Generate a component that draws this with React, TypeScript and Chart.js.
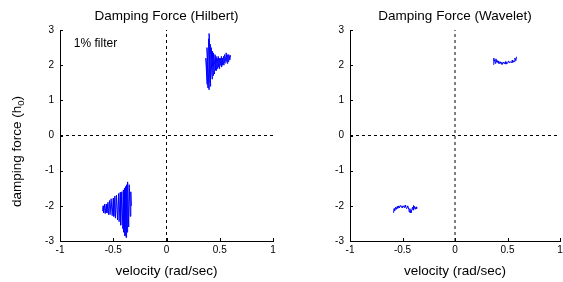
import React, { useEffect, useRef } from "react";
import { Chart, registerables } from "chart.js";

Chart.register(...registerables);

// ---- data ----
const X_TICKS = [-1, -0.5, 0, 0.5, 1];
const X_TICK_LABELS = ["-1", "-0.5", "0", "0.5", "1"];
const Y_TICKS = [-3, -2, -1, 0, 1, 2, 3];
const Y_TICK_LABELS = ["-3", "-2", "-1", "0", "1", "2", "3"];
const TITLES = ["Damping Force (Hilbert)", "Damping Force (Wavelet)"];
const X_LABEL = "velocity (rad/sec)";
const Y_LABEL_MAIN = "damping force (h";
const Y_LABEL_SUB = "0";
const Y_LABEL_END = ")";
const NOTE_TEXT = "1% filter";
const NOTE_X = -0.87;
const NOTE_Y = 2.6;

const hilbertUpperX = [0.38, 0.37, 0.39, 0.38, 0.4, 0.395, 0.41, 0.4, 0.415, 0.41, 0.43, 0.42, 0.44, 0.43, 0.45, 0.44, 0.46, 0.455, 0.47, 0.465, 0.48, 0.475, 0.49, 0.485, 0.5, 0.495, 0.51, 0.505, 0.52, 0.515, 0.53, 0.525, 0.54, 0.535, 0.55, 0.545, 0.56, 0.56, 0.57, 0.575, 0.58, 0.585, 0.595, 0.6, 0.59];
const hilbertUpperY = [1.45, 2.2, 1.35, 2.5, 1.3, 2.75, 1.5, 2.9, 1.4, 2.6, 1.6, 2.5, 1.7, 2.4, 1.75, 2.35, 1.85, 2.3, 1.85, 2.25, 1.9, 2.2, 1.95, 2.25, 1.9, 2.2, 2.0, 2.2, 1.95, 2.25, 2.0, 2.2, 2.0, 2.25, 2.05, 2.3, 2.1, 2.35, 2.05, 2.3, 2.1, 2.3, 2.15, 2.28, 2.2];

const hilbertLowerX = [-0.6, -0.595, -0.59, -0.58, -0.575, -0.565, -0.56, -0.55, -0.545, -0.535, -0.53, -0.52, -0.51, -0.5, -0.495, -0.485, -0.48, -0.47, -0.46, -0.45, -0.445, -0.435, -0.43, -0.42, -0.41, -0.405, -0.4, -0.395, -0.39, -0.385, -0.38, -0.375, -0.37, -0.365, -0.355, -0.35, -0.34, -0.335, -0.33];
const hilbertLowerY = [-2.15, -2.0, -2.2, -1.95, -2.22, -1.95, -2.2, -1.9, -2.25, -1.85, -2.25, -1.8, -2.28, -1.78, -2.3, -1.72, -2.35, -1.7, -2.4, -1.65, -2.45, -1.62, -2.55, -1.6, -2.65, -1.55, -2.75, -1.5, -2.85, -1.45, -2.9, -1.4, -2.75, -1.32, -2.6, -1.4, -2.3, -1.6, -2.0];

const waveletUpperX = [0.365, 0.37, 0.372, 0.378, 0.385, 0.39, 0.395, 0.4, 0.41, 0.415, 0.42, 0.43, 0.44, 0.445, 0.45, 0.46, 0.47, 0.48, 0.485, 0.49, 0.5, 0.51, 0.52, 0.53, 0.54, 0.545, 0.55, 0.56, 0.565, 0.57, 0.58, 0.585];
const waveletUpperY = [2.02, 2.2, 2.12, 2.15, 2.05, 2.18, 2.1, 2.14, 2.06, 2.12, 2.04, 2.1, 2.03, 2.08, 2.02, 2.09, 2.04, 2.1, 2.03, 2.08, 2.05, 2.12, 2.06, 2.1, 2.07, 2.14, 2.08, 2.12, 2.1, 2.2, 2.13, 2.24];

const waveletLowerX = [-0.585, -0.58, -0.575, -0.565, -0.56, -0.55, -0.545, -0.535, -0.53, -0.52, -0.51, -0.505, -0.5, -0.49, -0.48, -0.475, -0.47, -0.46, -0.45, -0.44, -0.435, -0.43, -0.425, -0.42, -0.41, -0.405, -0.4, -0.395, -0.39, -0.385, -0.38, -0.37, -0.365];
const waveletLowerY = [-2.2, -2.08, -2.14, -2.04, -2.1, -2.02, -2.07, -2.0, -2.06, -1.99, -2.04, -2.0, -2.06, -2.0, -2.05, -1.98, -2.03, -2.08, -2.0, -2.1, -2.18, -2.08, -2.14, -2.2, -2.1, -2.04, -2.12, -1.99, -2.06, -2.02, -2.1, -2.03, -2.08];

const ZERO_H_X = [-1, 1];
const ZERO_H_Y = [0, 0];
const ZERO_V_X = [0, 0];
const ZERO_V_Y = [-3, 3];

const FONT = "'Liberation Sans', Arial, Helvetica, sans-serif";

const pts = (xs: number[], ys: number[]) => xs.map((x, i) => ({ x, y: ys[i] }));

const innerTicks = {
  id: "innerTicks",
  afterDraw(chart: any) {
    const { ctx, chartArea: a, scales } = chart;
    const x = scales.x;
    const y = scales.y;
    ctx.save();
    ctx.strokeStyle = "#000";
    ctx.lineWidth = 1;
    ctx.beginPath();
    x.ticks.forEach((t: any) => {
      const px = Math.round(x.getPixelForValue(t.value)) + 0.5;
      ctx.moveTo(px, a.bottom);
      ctx.lineTo(px, a.bottom - 3);
    });
    y.ticks.forEach((t: any) => {
      const py = Math.round(y.getPixelForValue(t.value)) + 0.5;
      ctx.moveTo(a.left, py);
      ctx.lineTo(a.left + 3, py);
    });
    ctx.stroke();
    ctx.restore();
  },
};

const extras = {
  id: "extras",
  afterDraw(chart: any, _args: any, opts: any) {
    const { ctx, chartArea: a, scales } = chart;
    ctx.save();
    ctx.fillStyle = "#000";
    if (opts.note) {
      ctx.font = `12px ${FONT}`;
      ctx.textAlign = "left";
      ctx.textBaseline = "middle";
      ctx.fillText(NOTE_TEXT, scales.x.getPixelForValue(NOTE_X), scales.y.getPixelForValue(NOTE_Y));
    }
    if (opts.ylabel) {
      const big = `13.5px ${FONT}`;
      const small = `9.5px ${FONT}`;
      ctx.font = big;
      const w1 = ctx.measureText(Y_LABEL_MAIN).width;
      const w3 = ctx.measureText(Y_LABEL_END).width;
      ctx.font = small;
      const w2 = ctx.measureText(Y_LABEL_SUB).width;
      const total = w1 + w2 + w3;
      ctx.translate(17, (a.top + a.bottom) / 2 + 16);
      ctx.rotate(-Math.PI / 2);
      ctx.textAlign = "left";
      ctx.textBaseline = "middle";
      let xx = -total / 2;
      ctx.font = big;
      ctx.fillText(Y_LABEL_MAIN, xx, 0);
      xx += w1;
      ctx.font = small;
      ctx.fillText(Y_LABEL_SUB, xx, 4);
      xx += w2;
      ctx.font = big;
      ctx.fillText(Y_LABEL_END, xx, 0);
    }
    ctx.restore();
  },
};

function makeConfig(panel: number): any {
  const isLeft = panel === 0;
  const upper = isLeft ? pts(hilbertUpperX, hilbertUpperY) : pts(waveletUpperX, waveletUpperY);
  const lower = isLeft ? pts(hilbertLowerX, hilbertLowerY) : pts(waveletLowerX, waveletLowerY);
  const lineDs = (data: any[], color: string) => ({
    data,
    showLine: true,
    borderColor: color,
    borderWidth: 1,
    pointRadius: 0,
    tension: 0,
  });
  const dashDs = (data: any[]) => ({
    data,
    showLine: true,
    borderColor: "#000",
    borderWidth: 1,
    borderDash: [3, 3],
    pointRadius: 0,
  });
  return {
    type: "scatter",
    data: {
      datasets: [
        dashDs(pts(ZERO_H_X, ZERO_H_Y)),
        dashDs(pts(ZERO_V_X, ZERO_V_Y)),
        lineDs(upper, "#0000ff"),
        lineDs(lower, "#0000ff"),
      ],
    },
    options: {
      animation: false,
      responsive: false,
      devicePixelRatio: 1,
      layout: { padding: { left: 0, right: isLeft ? 8 : 3, top: 0, bottom: 0 } },
      plugins: {
        legend: { display: false },
        tooltip: { enabled: false },
        title: {
          display: true,
          text: TITLES[panel],
          fullSize: false,
          color: "#000",
          font: { family: FONT, size: 13.5, weight: "normal" },
          padding: { top: 8, bottom: 5.8 },
        },
        extras: { note: isLeft, ylabel: isLeft },
      },
      scales: {
        x: {
          type: "linear",
          min: -1,
          max: 1,
          afterBuildTicks: (s: any) => {
            s.ticks = X_TICKS.map((v) => ({ value: v }));
          },
          afterFit: (s: any) => {
            s.height = 41;
            s.paddingLeft = 0;
            s.paddingRight = 0;
          },
          ticks: {
            color: "#000",
            font: { family: FONT, size: 10 },
            padding: 3,
            maxRotation: 0,
            callback: (_v: any, i: number) => X_TICK_LABELS[i],
          },
          grid: { display: true, drawOnChartArea: false, drawTicks: false },
          border: { display: true, color: "#000", width: 1 },
          title: {
            display: true,
            text: X_LABEL,
            color: "#000",
            font: { family: FONT, size: 13.5 },
            padding: { top: 0, bottom: 3 },
          },
        },
        y: {
          type: "linear",
          min: -3,
          max: 3,
          afterBuildTicks: (s: any) => {
            s.ticks = Y_TICKS.map((v) => ({ value: v }));
          },
          afterFit: (s: any) => {
            s.width = isLeft ? 60 : 69;
          },
          ticks: {
            color: "#000",
            font: { family: FONT, size: 10 },
            padding: 6,
            callback: (_v: any, i: number) => Y_TICK_LABELS[i],
          },
          grid: { display: true, drawOnChartArea: false, drawTicks: false },
          border: { display: true, color: "#000", width: 1 },
        },
      },
    },
    plugins: [innerTicks, extras],
  };
}

function Panel({ panel, left, width }: { panel: number; left: number; width: number }) {
  const ref = useRef<HTMLCanvasElement | null>(null);
  useEffect(() => {
    if (!ref.current) return;
    const chart = new Chart(ref.current, makeConfig(panel));
    return () => chart.destroy();
  }, [panel]);
  return (
    <div style={{ position: "absolute", left, top: 0, width, height: 282 }}>
      <canvas ref={ref} width={width} height={282} style={{ width, height: 282, display: "block" }} />
    </div>
  );
}

export default function App() {
  return (
    <div style={{ position: "absolute", left: 0, top: 0, width: 563, height: 282, background: "#fff" }}>
      <Panel panel={0} left={0} width={281} />
      <Panel panel={1} left={281} width={282} />
    </div>
  );
}
